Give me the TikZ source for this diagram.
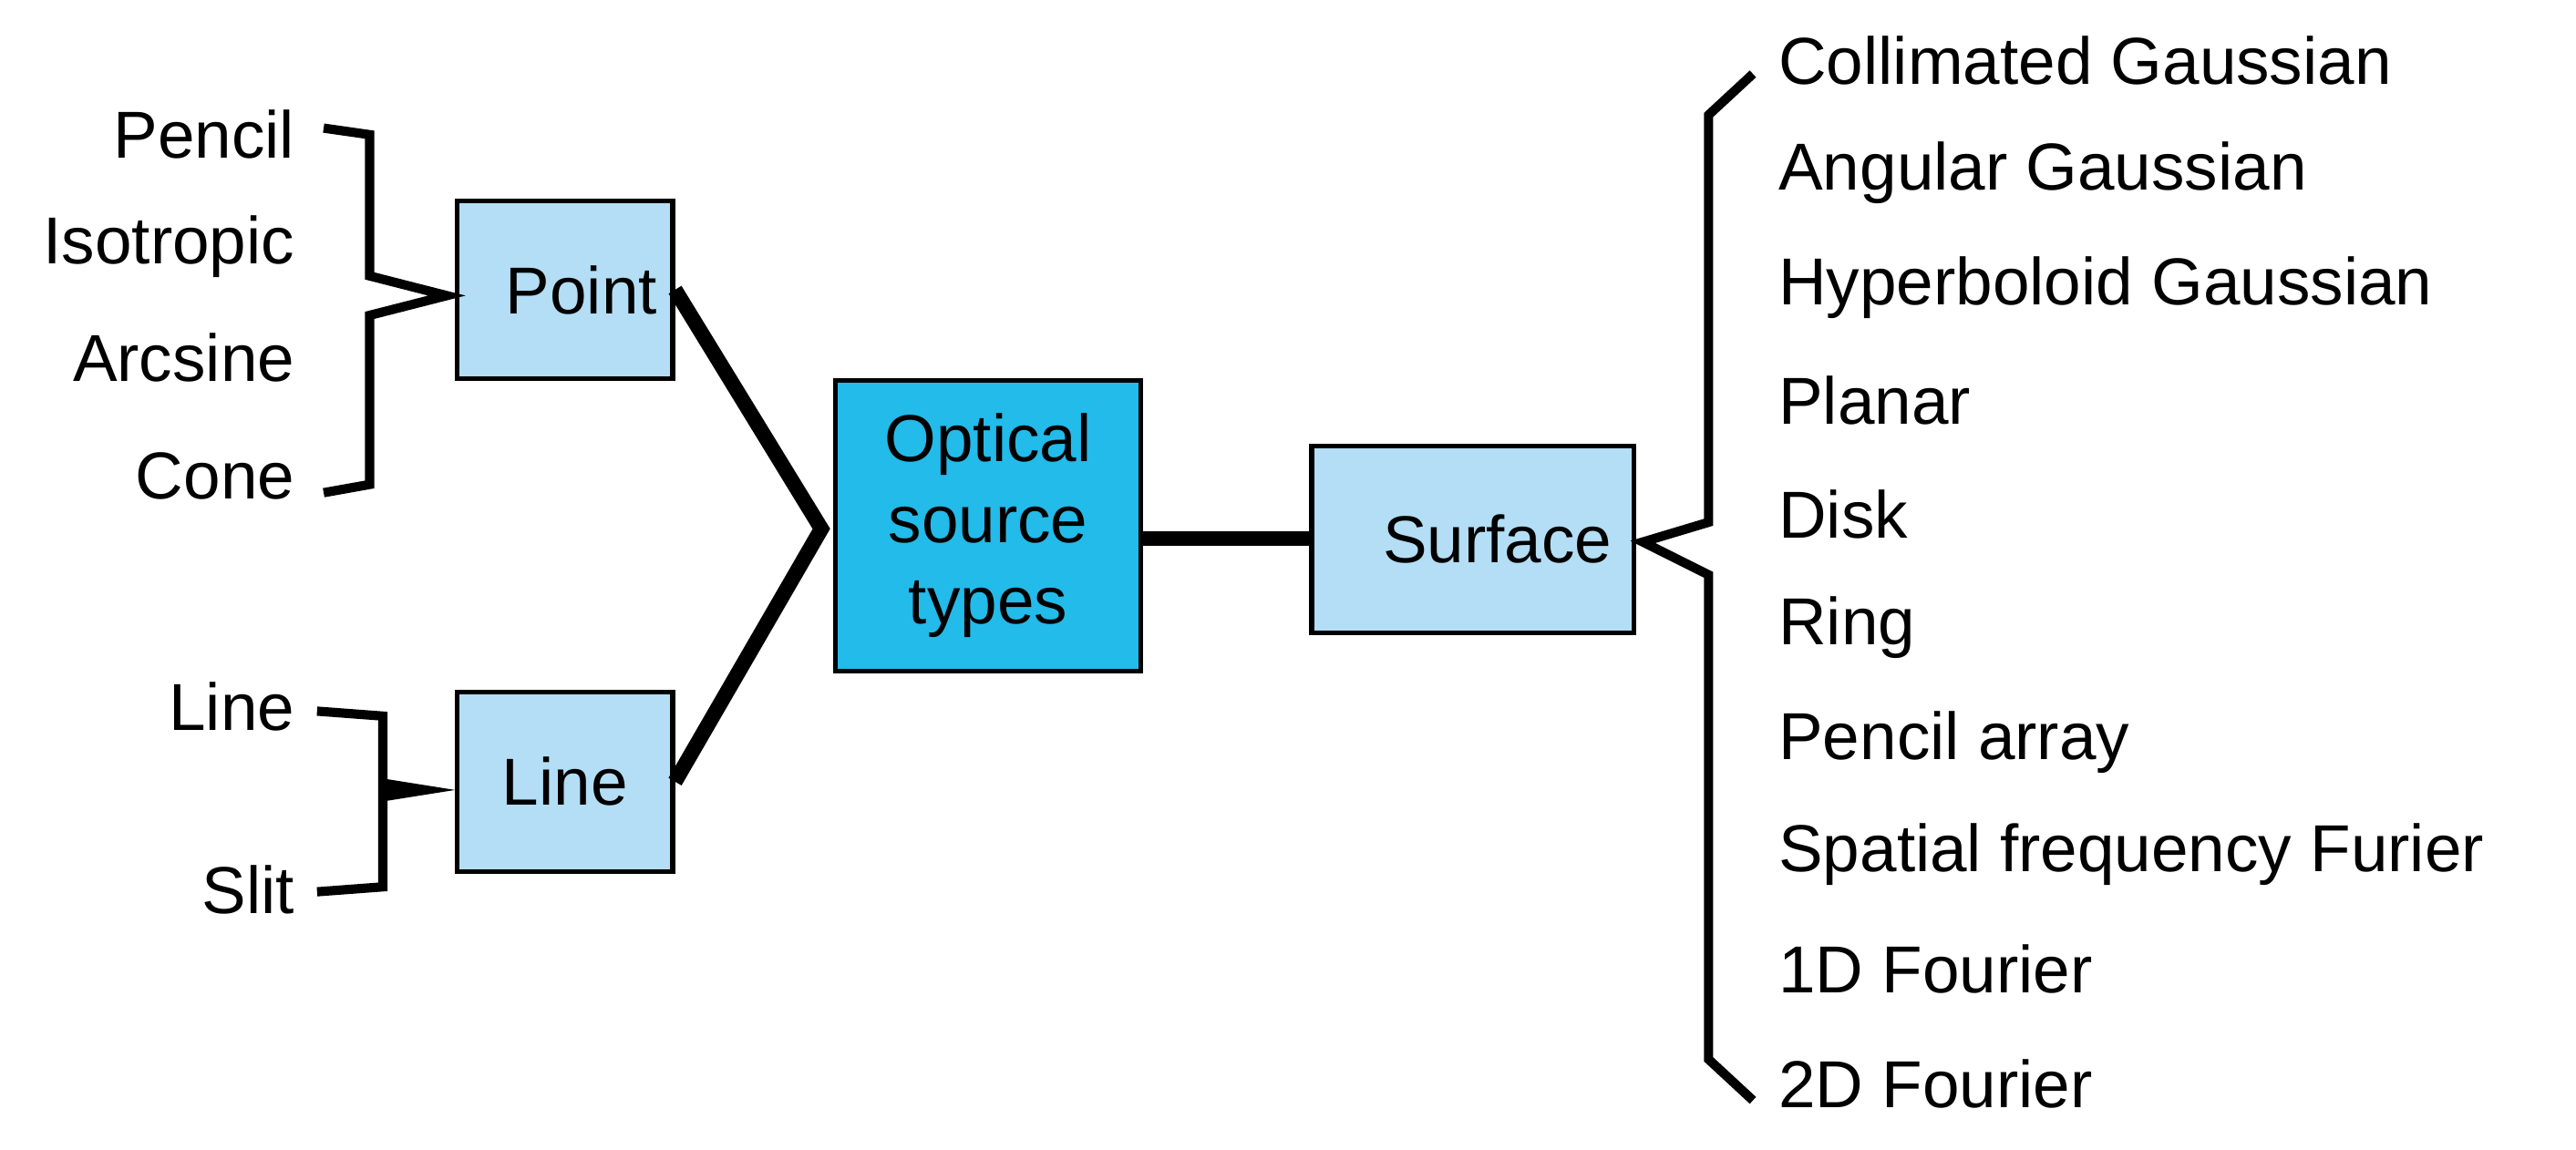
\documentclass[tikz,border=0pt]{standalone}
\usepackage{fontspec}
\setmainfont{Liberation Sans}
\begin{document}
\begin{tikzpicture}[x=0.01cm,y=-0.01cm,
 box/.style={draw,line width=0.8pt,fill=lb,minimum width=131\pgflinewidth,inner sep=0pt},
 lbl/.style={font=\fontsize{11.5}{13}\selectfont,inner sep=0pt},
 br/.style={line width=1.6pt,line join=miter},
 con/.style={line width=2.6pt}]
\definecolor{lb}{HTML}{B3DEF5}
\definecolor{db}{HTML}{22BBEA}
\useasboundingbox (0,0) rectangle (1568,700);
\node[draw,line width=0.8pt,fill=lb,minimum width=1.31cm,minimum height=1.08cm,inner sep=0pt,anchor=north west,lbl] (point) at (277,121) {\hspace*{0.2cm}Point};
\node[draw,line width=0.8pt,fill=lb,minimum width=1.31cm,minimum height=1.09cm,inner sep=0pt,anchor=north west,lbl] (line) at (277,420) {Line};
\node[draw,line width=0.8pt,fill=db,minimum width=1.86cm,minimum height=1.77cm,inner sep=0pt,anchor=north west,lbl,align=center] (opt) at (507,230) {Optical\\[1pt]source\\[1pt]types};
\node[draw,line width=0.8pt,fill=lb,minimum width=1.96cm,minimum height=1.14cm,inner sep=0pt,anchor=north west,lbl] (surf) at (797,270) {\hspace*{0.3cm}Surface};
\coordinate (j) at (500,322);
\draw[con] (point.east) -- (j) -- (line.east);
\draw[con] (opt.east|-0,328) -- (surf.west|-0,328);
% braces
\draw[br] (197,78) -- (225,82) -- (225,168) -- (272,180) -- (225,192) -- (225,295) -- (197,300);
\draw[br] (193,433) -- (233,436) -- (233,540) -- (193,543);
\fill (233,474) -- (277,481) -- (233,488) -- cycle;
\draw[br] (1067,45) -- (1040,70) -- (1040,318) -- (1000,330) -- (1040,350) -- (1040,645) -- (1067,670);
% left labels
\foreach \t/\y [count=\i] in {Pencil/82,Isotropic/150,Arcsine/218,Cone/290,Line/430,Slit/542}
 \node[lbl,anchor=east] (l\i) at (180,\y) {\t};
\foreach \t/\y [count=\i] in {Collimated Gaussian/37,Angular Gaussian/105,Hyperboloid Gaussian/175,Planar/244,Disk/313,Ring/382,Pencil array/452,Spatial frequency Furier/520,1D Fourier/590,2D Fourier/660}
 \node[lbl,anchor=west] (r\i) at (1082,\y) {\t};
\end{tikzpicture}
\end{document}
